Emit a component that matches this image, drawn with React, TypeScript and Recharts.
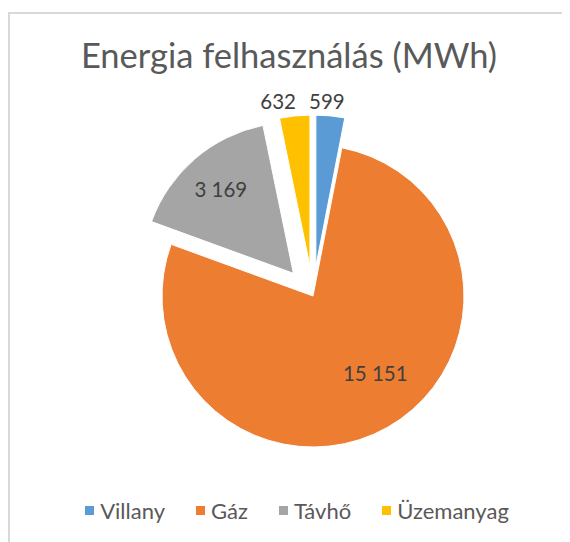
import { Cell, Legend, Pie, PieChart } from "recharts";

const categories = ["Villany", "Gáz", "Távhő", "Üzemanyag"];
const values = [599, 15151, 3169, 632];
const labels = ["599", "15 151", "3 169", "632"];
const colors = ["#5b9bd5", "#ed7d31", "#a5a5a5", "#ffc000"];

// how far each slice is pulled out of the pie
const explode = [30, 0, 30, 30];
// data label placement: radius factor and nudge
const labelPlace = [
  { r: 1.1, dx: -5, dy: 0 },
  { r: 0.65, dx: 14, dy: -8 },
  { r: 0.735, dx: 0, dy: 0 },
  { r: 1.1, dx: -15, dy: 0 },
];

const data = categories.map((name, i) => ({ name, value: values[i] }));
const total = values.reduce((a, b) => a + b, 0);

const CX = 303;
const CY = 282;
const R = 151;
const RAD = Math.PI / 180;

function midAngle(index: number) {
  let before = 0;
  for (let i = 0; i < index; i++) before += values[i];
  // degrees clockwise from 12 o'clock
  return ((before + values[index] / 2) / total) * 360;
}

function LegendContent() {
  return (
    <div
      style={{
        display: "flex",
        justifyContent: "center",
        gap: 31,
        fontFamily: "Lato, sans-serif",
        fontSize: 22,
        color: "#595959",
        paddingLeft: 16,
      }}
    >
      {categories.map((name, i) => (
        <span key={name} style={{ display: "flex", alignItems: "center" }}>
          <span
            style={{
              width: 9,
              height: 9,
              background: colors[i],
              marginRight: 6,
              display: "inline-block",
            }}
          />
          {name}
        </span>
      ))}
    </div>
  );
}

export default function App() {
  return (
    <div
      style={{
        position: "relative",
        marginTop: 4,
        width: 562,
        height: 540,
        boxSizing: "border-box",
        borderTop: "2px solid #d9d9d9",
        borderLeft: "2px solid #d9d9d9",
        borderRight: "2px solid #d9d9d9",
        background: "#fff",
      }}
    >
      <div
        style={{
          position: "absolute",
          top: 20,
          left: 0,
          width: 558,
          textAlign: "center",
          fontFamily: "Lato, sans-serif",
          fontSize: 34.5,
          color: "#595959",
          lineHeight: "42px",
        }}
      >
        Energia felhasználás (MWh)
      </div>
      <div style={{ position: "absolute", left: 0, top: 0 }}>
        <PieChart
          width={558}
          height={530}
          margin={{ top: 0, right: 0, bottom: 0, left: 0 }}
        >
          {categories.map((cat, k) => {
            const a = midAngle(k) * RAD;
            const ox = explode[k] * Math.sin(a);
            const oy = -explode[k] * Math.cos(a);
            return (
              <Pie
                key={cat}
                data={data}
                dataKey="value"
                nameKey="name"
                cx={CX + ox}
                cy={CY + oy}
                outerRadius={R}
                startAngle={90}
                endAngle={-270}
                stroke="#fff"
                strokeWidth={1}
                isAnimationActive={false}
                labelLine={false}
                legendType="none"
                label={(p: any) => {
                  if (p.index !== k) return null;
                  const pl = labelPlace[k];
                  const rr = R * pl.r;
                  const x = p.cx + rr * Math.cos(-p.midAngle * RAD) + pl.dx;
                  const y = p.cy + rr * Math.sin(-p.midAngle * RAD) + pl.dy;
                  return (
                    <text
                      x={x}
                      y={y}
                      textAnchor="middle"
                      dominantBaseline="central"
                      fill="#404040"
                      fontFamily="Lato, sans-serif"
                      fontSize={20.5}
                    >
                      {labels[k]}
                    </text>
                  );
                }}
              >
                {data.map((d, i) => (
                  <Cell
                    key={d.name}
                    fill={i === k ? colors[i] : "none"}
                    stroke={i === k ? "#fff" : "none"}
                  />
                ))}
              </Pie>
            );
          })}
          <Legend
            content={<LegendContent />}
            wrapperStyle={{ top: 483, left: 0, width: 558 }}
          />
        </PieChart>
      </div>
    </div>
  );
}
